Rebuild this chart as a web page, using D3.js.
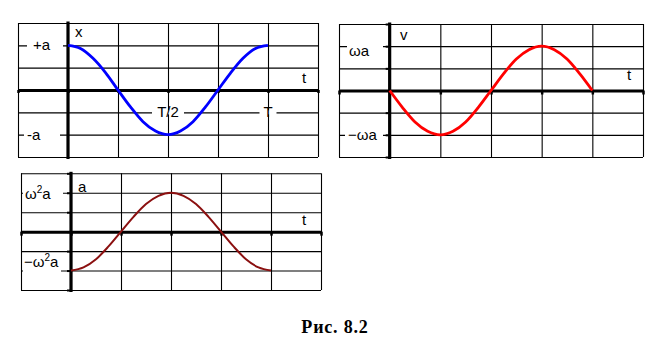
<!DOCTYPE html>
<html><head><meta charset="utf-8">
<script src="https://cdn.jsdelivr.net/npm/d3@7"></script>
<style>body{margin:0;background:#fff}svg{display:block}</style>
</head><body>
<svg id="c" width="671" height="362"></svg>
<script>
// ---- data (in units of period T and amplitude) ----
const times = [0, 0.0625, 0.125, 0.1875, 0.25, 0.3125, 0.375, 0.4375, 0.5, 0.5625, 0.625, 0.6875, 0.75, 0.8125, 0.875, 0.9375, 1];
const xValues = [1, 0.93, 0.71, 0.39, 0, -0.38, -0.71, -0.92, -1, -0.92, -0.71, -0.38, 0, 0.38, 0.71, 0.93, 1];
const vValues = [0, -0.38, -0.71, -0.92, -1, -0.92, -0.71, -0.38, 0, 0.38, 0.71, 0.92, 1, 0.92, 0.71, 0.38, 0];
const aValues = [-1, -0.92, -0.71, -0.38, 0, 0.38, 0.71, 0.92, 1, 0.92, 0.71, 0.38, 0, -0.38, -0.71, -0.92, -1];
const gridT = [-0.25, 0, 0.25, 0.5, 0.75, 1, 1.25];
const gridY = [-1.5, -1, -0.5, 0, 0.5, 1, 1.5];
const timeTickLabels = [{t: 0.5, text: "T/2"}, {t: 1, text: "T"}];
const caption = "Рис. 8.2";

// ---- layout ----
const panels = [
  {x0: 18, x1: 318, y0: 157, y1: 23, values: xValues, color: "#0000ff", width: 2.8, name: "x", tname: "t",
   nameAt: [75, 37], tAt: [302, 83], axisTicks: false,
   yLabels: [{v: 1, parts: [["+a"]], tx: 33, dy: 5, gap: [27, 63]}, {v: -1, parts: [["-a"]], tx: 27, dy: 5, gap: [24, 60]}],
   timeLabels: true},
  {x0: 339, x1: 643, y0: 157, y1: 24, values: vValues, color: "#ff0000", width: 2.8, name: "v", tname: "t",
   nameAt: [400, 40], tAt: [627, 80], axisTicks: true,
   yLabels: [{v: 1, parts: [["ωa"]], tx: 349, dy: 10, gap: [347, 383]}, {v: -1, parts: [["−ωa"]], tx: 348, dy: 5, gap: [345, 383]}],
   timeLabels: false},
  {x0: 21, x1: 321, y0: 290, y1: 173.3, values: aValues, color: "#8b1010", width: 2, name: "a", tname: "t",
   nameAt: [78, 192], tAt: [302, 225], axisTicks: true,
   yLabels: [{v: 1, parts: [["ω"], ["2", true], ["a"]], tx: 25, dy: 6, gap: [23, 63]}, {v: -1, parts: [["−ω"], ["2", true], ["a"]], tx: 24, dy: -4, gap: [23, 61]}],
   timeLabels: false}
];

const svg = d3.select("#c");
const sans = '"Liberation Sans", Arial, sans-serif';

panels.forEach(p => {
  const x = d3.scaleLinear().domain([-0.25, 1.25]).range([p.x0, p.x1]);
  const y = d3.scaleLinear().domain([-1.5, 1.5]).range([p.y0, p.y1]);
  const g = svg.append("g");

  // grid
  g.append("g").call(d3.axisBottom(x).tickValues(gridT).tickSize(-(p.y0 - p.y1)).tickFormat(""))
    .attr("transform", `translate(0,${p.y0})`)
    .call(s => s.select(".domain").remove())
    .call(s => s.selectAll("line").attr("stroke", "#000").attr("stroke-width", 1.1));
  g.append("g").call(d3.axisLeft(y).tickValues(gridY).tickSize(-(p.x1 - p.x0)).tickFormat(""))
    .attr("transform", `translate(${p.x0},0)`)
    .call(s => s.select(".domain").remove())
    .call(s => s.selectAll("line").attr("stroke", "#000").attr("stroke-width", 1.1));

  // label gaps (white backgrounds)
  p.yLabels.forEach(l => {
    g.append("rect").attr("x", l.gap[0]).attr("width", l.gap[1] - l.gap[0])
      .attr("y", y(l.v) - 2).attr("height", 4).attr("fill", "#fff");
  });
  if (p.timeLabels) {
    timeTickLabels.forEach(d => {
      const w = d.text.length > 1 ? 32 : 17;
      g.append("rect").attr("x", x(d.t) - w / 2).attr("width", w)
        .attr("y", y(-0.5) - 2).attr("height", 4).attr("fill", "#fff");
    });
  }

  // axes: thick lines with small ticks
  g.append("g").attr("transform", `translate(0,${y(0)})`)
    .call(d3.axisBottom(x).tickValues(gridT).tickSize(p.axisTicks ? 4 : 3).tickSizeOuter(0).tickFormat(""))
    .call(s => s.select(".domain").attr("stroke", "#000").attr("stroke-width", 3))
    .call(s => s.selectAll(".tick line").attr("stroke", "#000").attr("stroke-width", 2.5));
  g.append("g").attr("transform", `translate(${x(0)},0)`)
    .call(d3.axisLeft(y).tickValues(p.axisTicks ? gridY : []).tickSize(4).tickSizeOuter(0).tickFormat(""))
    .call(s => s.select(".domain").attr("stroke", "#000").attr("stroke-width", 3.2)
       .attr("d", `M0,${p.y1 - 1.5}V${p.y0 + 2}`))
    .call(s => s.selectAll(".tick line").attr("stroke", "#000").attr("stroke-width", 2));

  // curve
  const line = d3.line().x((d, i) => x(times[i])).y(d => y(d)).curve(d3.curveMonotoneX);
  g.append("path").datum(p.values).attr("d", line)
    .attr("fill", "none").attr("stroke", p.color).attr("stroke-width", p.width).attr("stroke-linejoin", "round");

  // labels
  const fs = 15;
  p.yLabels.forEach(l => {
    const t = g.append("text").attr("x", l.tx).attr("y", y(l.v) + l.dy).style("font-family", sans)
      .attr("font-size", fs).attr("fill", "#000");
    l.parts.forEach(pt => {
      const ts = t.append("tspan").text(pt[0]);
      if (pt[1]) ts.attr("font-size", 10).attr("dy", -6);
      else if (t.selectAll("tspan").size() > 1) ts.attr("dy", 6);
    });
  });
  g.append("text").attr("x", p.nameAt[0]).attr("y", p.nameAt[1]).style("font-family", sans).attr("font-size", fs).text(p.name);
  g.append("text").attr("x", p.tAt[0]).attr("y", p.tAt[1]).style("font-family", sans).attr("font-size", fs).text(p.tname);
  if (p.timeLabels) {
    timeTickLabels.forEach(d => {
      g.append("text").attr("x", x(d.t)).attr("y", y(-0.5) + 5).style("font-family", sans).attr("font-size", fs)
        .attr("text-anchor", "middle").text(d.text);
    });
  }
});

svg.append("text").attr("x", 335).attr("y", 333).attr("text-anchor", "middle")
  .style("font-family", '"Liberation Serif", "Times New Roman", serif').attr("font-weight", "bold")
  .style("letter-spacing", "0.8px").attr("font-size", 18).text(caption);
</script>
</body></html>
